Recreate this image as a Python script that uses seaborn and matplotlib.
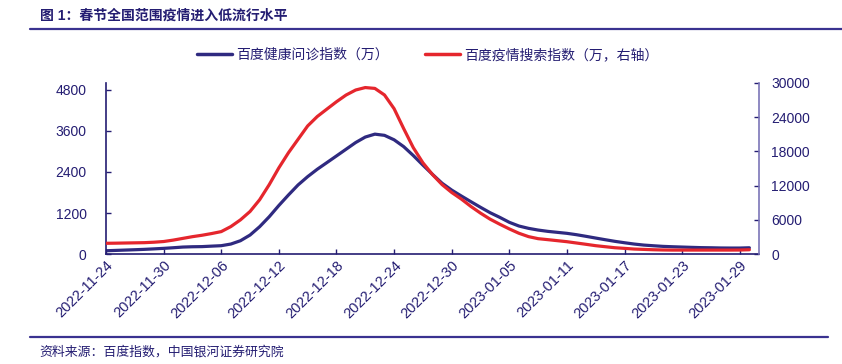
import numpy as np
import pandas as pd
import matplotlib
matplotlib.use("Agg")
import matplotlib.pyplot as plt
import matplotlib.dates as mdates
from matplotlib.lines import Line2D
import seaborn as sns

# daily values, 2022-11-24 .. 2023-01-30
dates = pd.date_range("2022-11-24", periods=68, freq="D")
consult_idx = [97, 107, 117, 127, 138, 152, 167, 185, 205, 214,
               218, 232, 245, 293, 390, 556, 800, 1092, 1420, 1727,
               2020, 2263, 2479, 2673, 2868, 3064, 3260, 3420, 3505, 3470,
               3340, 3140, 2880, 2600, 2330, 2070, 1870, 1698, 1531, 1367,
               1209, 1074, 928, 820, 752, 702, 664, 635, 606, 566,
               518, 468, 419, 372, 331, 293, 263, 243, 225, 214,
               205, 196, 188, 184, 178, 176, 176, 184]
search_idx = [1890, 1910, 1940, 1970, 2000, 2080, 2200, 2450, 2750, 3050,
              3300, 3600, 3940, 4820, 6000, 7470, 9530, 12180, 15120, 17770,
              20120, 22470, 24120, 25420, 26710, 27890, 28770, 29200, 29050, 27900,
              25500, 22000, 18660, 16010, 13940, 12180, 10800, 9650, 8350, 7180,
              6120, 5240, 4410, 3650, 3060, 2700, 2530, 2350, 2170, 1940,
              1710, 1470, 1290, 1110, 1000, 880, 820, 760, 720, 700,
              700, 700, 700, 700, 700, 700, 710, 760]
label_left = "百度健康问诊指数（万）"
label_right = "百度疫情搜索指数（万，右轴）"
tick_dates = pd.date_range("2022-11-24", "2023-01-29", freq="6D")

df = pd.DataFrame({"date": dates, "consult": consult_idx, "search": search_idx})

NAVY = "#241d72"
BLUE = "#2f2a80"
RED = "#e5262d"

sns.set_style("white")
plt.rcParams["font.family"] = ["Liberation Sans", "Noto Sans CJK SC", "DejaVu Sans"]

fig = plt.figure(figsize=(8.42, 3.64), dpi=100)
ax = fig.add_axes([0.1259, 0.302, 0.7755, 0.470])
ax2 = ax.twinx()

sns.lineplot(data=df, x="date", y="consult", ax=ax, color=BLUE, linewidth=2.3)
sns.lineplot(data=df, x="date", y="search", ax=ax2, color=RED, linewidth=2.3)

ax.set_xlim(pd.Timestamp("2022-11-24"), pd.Timestamp("2023-01-31"))
ax.set_ylim(0, 5000)
ax2.set_ylim(0, 30000)
ax.set_yticks(range(0, 4801, 1200))
ax2.set_yticks(range(0, 30001, 6000))
ax.set_xticks(tick_dates)
ax.xaxis.set_major_formatter(mdates.DateFormatter("%Y-%m-%d"))

for a in (ax, ax2):
    a.set_xlabel("")
    a.set_ylabel("")
    a.spines["top"].set_visible(False)
    a.tick_params(colors=NAVY, labelsize=10, direction="in", length=3.5, width=1)
ax.tick_params(axis="x", bottom=True, pad=3, labelsize=10.5)
ax.tick_params(axis="y", left=True, pad=14)
ax2.tick_params(axis="y", right=True, pad=9)
for lab in ax.get_xticklabels():
    lab.set_rotation(45)
    lab.set_ha("right")
    lab.set_rotation_mode("anchor")
ax.spines["left"].set_color(NAVY)
ax.spines["bottom"].set_color(NAVY)
ax.spines["right"].set_visible(False)
ax2.spines["left"].set_visible(False)
ax2.spines["bottom"].set_visible(False)
ax2.spines["right"].set_color("#7b76b8")
for a in (ax, ax2):
    for s in a.spines.values():
        s.set_linewidth(1.2)

handles = [Line2D([], [], color=BLUE, lw=2.5), Line2D([], [], color=RED, lw=2.5)]
fig.legend(handles, [label_left, label_right], loc="center", ncol=2,
           bbox_to_anchor=(0.508, 0.849), frameon=False, fontsize=10,
           handlelength=2.5, handletextpad=0.3, columnspacing=2.6,
           labelcolor=NAVY)

fig.text(0.047, 0.958, "图 1：春节全国范围疫情进入低流行水平", fontsize=10,
         fontweight="bold", color=NAVY, va="center")
fig.add_artist(Line2D([0.036, 1.0], [0.920, 0.920], color="#3a3290", lw=1.6))
fig.add_artist(Line2D([0.036, 0.983], [0.074, 0.074], color="#3a3290", lw=1.6))
fig.text(0.047, 0.033, "资料来源：百度指数，中国银河证券研究院", fontsize=9.3,
         color=NAVY, va="center", style="italic")

fig.savefig("out.png", dpi=100)
